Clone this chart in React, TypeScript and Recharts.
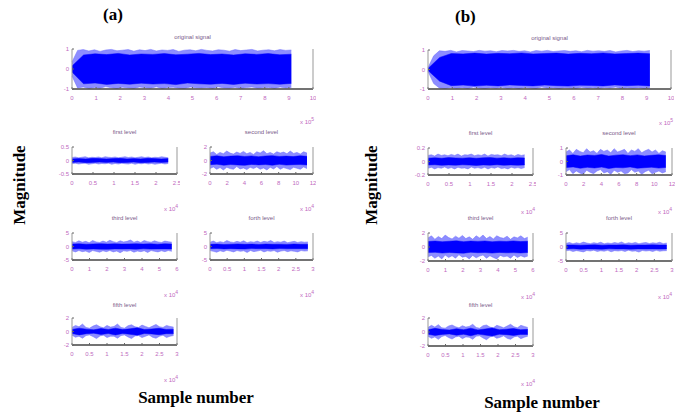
import { AreaChart, Area, XAxis, YAxis } from 'recharts'

// envelope of the dense noise (light fringe) and of the solid core band
const aOrigHi = [0.35, 0.93, 0.97, 0.9, 0.96, 0.88, 0.95, 0.98, 0.91, 0.94, 0.97, 0.89, 0.96, 0.92, 0.98, 0.9, 0.95, 0.93, 0.97, 0.88, 0.94, 0.96, 0.91, 0.98, 0.93, 0.9, 0.96, 0.94, 0.89, 0.97, 0.92, 0.95, 0.98, 0.9, 0.94, 0.96, 0.91, 0.97, 0.93, 0.95]
const aOrigLo = [-0.35, -0.95, -0.9, -0.97, -0.92, -0.96, -0.88, -0.94, -0.98, -0.91, -0.95, -0.97, -0.9, -0.94, -0.96, -0.89, -0.97, -0.93, -0.91, -0.96, -0.98, -0.9, -0.94, -0.95, -0.92, -0.97, -0.89, -0.95, -0.96, -0.91, -0.98, -0.93, -0.9, -0.96, -0.94, -0.92, -0.97, -0.9, -0.95, -0.93]
const aOrigCoreHi = [0.15, 0.7, 0.76, 0.72, 0.78, 0.7, 0.75, 0.73, 0.77, 0.71, 0.74, 0.78, 0.72, 0.75, 0.7, 0.76, 0.73, 0.77, 0.71, 0.74]
const aOrigCoreLo = [-0.15, -0.74, -0.7, -0.77, -0.72, -0.76, -0.71, -0.75, -0.73, -0.78, -0.7, -0.74, -0.76, -0.72, -0.77, -0.71, -0.75, -0.73, -0.76, -0.72]

const aL1Hi = [0.11, 0.13, 0.1, 0.12, 0.14, 0.1, 0.12, 0.11, 0.13, 0.1, 0.14, 0.12, 0.11, 0.13, 0.1, 0.12, 0.14, 0.11, 0.13, 0.1, 0.12, 0.14, 0.11, 0.13, 0.1, 0.12, 0.11, 0.14, 0.12, 0.1]
const aL1Lo = [-0.12, -0.1, -0.13, -0.11, -0.1, -0.14, -0.12, -0.1, -0.13, -0.11, -0.12, -0.1, -0.14, -0.11, -0.13, -0.1, -0.12, -0.13, -0.1, -0.14, -0.11, -0.12, -0.1, -0.13, -0.11, -0.14, -0.12, -0.1, -0.13, -0.11]
const aL1CoreHi = [0.06, 0.07, 0.06, 0.08, 0.07, 0.06, 0.07, 0.08, 0.06, 0.07, 0.06, 0.08, 0.07, 0.06, 0.07]
const aL1CoreLo = [-0.07, -0.06, -0.08, -0.07, -0.06, -0.07, -0.06, -0.08, -0.07, -0.06, -0.08, -0.07, -0.06, -0.07, -0.06]

const aL2Hi = [1.1, 1.3, 0.9, 1.2, 1.0, 1.4, 1.1, 0.95, 1.25, 1.05, 1.35, 1.0, 1.2, 0.9, 1.3, 1.1, 1.45, 1.0, 1.2, 0.95, 1.3, 1.1, 1.25, 1.0, 1.4, 1.05, 1.2, 0.95, 1.3, 1.1]
const aL2Lo = [-1.2, -0.95, -1.3, -1.05, -1.4, -1.0, -1.2, -1.3, -0.9, -1.25, -1.1, -1.35, -1.0, -1.2, -0.95, -1.3, -1.1, -1.4, -1.0, -1.25, -0.9, -1.3, -1.05, -1.2, -1.35, -1.0, -1.15, -1.3, -0.95, -1.2]
const aL2CoreHi = [0.6, 0.7, 0.55, 0.65, 0.7, 0.6, 0.68, 0.56, 0.66, 0.72, 0.6, 0.65, 0.58, 0.7, 0.62]
const aL2CoreLo = [-0.62, -0.55, -0.7, -0.6, -0.66, -0.72, -0.58, -0.65, -0.6, -0.7, -0.56, -0.68, -0.62, -0.6, -0.66]

const aL3Hi = [1.8, 1.5, 2.1, 1.6, 1.9, 1.4, 2.2, 1.7, 1.5, 2.0, 1.6, 2.3, 1.8, 1.5, 2.1, 1.7, 1.9, 2.4, 1.6, 2.0, 1.5, 2.2, 1.8, 1.6, 2.1, 1.7, 1.5, 2.0, 1.8, 1.6]
const aL3Lo = [-1.6, -2.0, -1.5, -1.9, -1.7, -2.2, -1.5, -1.8, -2.1, -1.6, -1.9, -1.5, -2.0, -1.7, -2.3, -1.6, -1.8, -1.5, -2.1, -1.7, -1.9, -1.6, -2.2, -1.5, -1.8, -2.0, -1.6, -1.9, -1.5, -1.8]
const aL3CoreHi = [0.9, 1.0, 0.85, 0.95, 1.05, 0.9, 1.0, 0.88, 0.96, 1.02, 0.9, 0.98, 0.86, 1.0, 0.92]
const aL3CoreLo = [-0.92, -0.86, -1.0, -0.9, -0.98, -1.04, -0.88, -0.95, -0.9, -1.0, -0.86, -0.97, -0.92, -0.9, -0.96]

const aL4Hi = [1.6, 2.0, 1.4, 1.8, 1.5, 2.2, 1.7, 1.5, 1.9, 1.6, 2.1, 1.4, 1.8, 1.6, 2.0, 1.5, 1.9, 1.7, 2.2, 1.5, 1.8, 1.6, 2.0, 1.4, 1.7, 1.9, 1.5, 1.8, 1.6, 1.7]
const aL4Lo = [-1.5, -1.8, -2.1, -1.6, -1.9, -1.4, -1.7, -2.0, -1.5, -1.8, -1.6, -2.2, -1.5, -1.9, -1.7, -1.4, -2.0, -1.6, -1.8, -1.5, -2.1, -1.7, -1.5, -1.9, -1.6, -1.8, -2.0, -1.5, -1.7, -1.6]
const aL4CoreHi = [0.8, 0.9, 0.75, 0.85, 0.95, 0.8, 0.88, 0.76, 0.9, 0.82, 0.86, 0.78, 0.92, 0.8, 0.85]
const aL4CoreLo = [-0.82, -0.76, -0.9, -0.8, -0.88, -0.94, -0.78, -0.85, -0.8, -0.9, -0.76, -0.86, -0.82, -0.8, -0.84]

const aL5Hi = [0.6, 0.9, 0.7, 1.1, 0.6, 0.5, 0.8, 1.0, 0.7, 0.55, 0.9, 0.65, 0.75, 1.1, 0.6, 0.5, 0.85, 1.0, 0.7, 0.6, 0.95, 0.75, 0.55, 0.8, 1.05, 0.7, 0.6, 0.9, 0.75, 0.65]
const aL5Lo = [-0.55, -0.85, -0.7, -1.0, -0.6, -0.5, -0.75, -1.05, -0.65, -0.55, -0.9, -0.7, -0.7, -1.0, -0.6, -0.5, -0.8, -1.05, -0.65, -0.6, -0.9, -0.7, -0.5, -0.85, -1.0, -0.7, -0.55, -0.9, -0.7, -0.6]
const aL5CoreHi = [0.3, 0.5, 0.35, 0.25, 0.45, 0.3, 0.5, 0.28, 0.4, 0.55, 0.3, 0.38, 0.48, 0.3, 0.35]
const aL5CoreLo = [-0.3, -0.5, -0.32, -0.25, -0.45, -0.3, -0.52, -0.28, -0.42, -0.55, -0.3, -0.36, -0.48, -0.32, -0.34]

const bOrigHi = [0.1, 0.7, 0.96, 0.93, 0.98, 0.9, 0.97, 0.95, 0.92, 0.98, 0.94, 0.96, 0.91, 0.97, 0.95, 0.98, 0.93, 0.96, 0.9, 0.97, 0.94, 0.98, 0.92, 0.95, 0.97, 0.93, 0.96, 0.91, 0.98, 0.94, 0.96, 0.93, 0.97, 0.9, 0.95, 0.98, 0.92, 0.96, 0.94, 0.97]
const bOrigLo = [-0.1, -0.72, -0.95, -0.98, -0.92, -0.96, -0.94, -0.97, -0.9, -0.95, -0.98, -0.93, -0.96, -0.91, -0.97, -0.94, -0.98, -0.92, -0.95, -0.97, -0.9, -0.96, -0.94, -0.98, -0.93, -0.95, -0.97, -0.91, -0.96, -0.94, -0.98, -0.92, -0.95, -0.9, -0.97, -0.94, -0.96, -0.93, -0.98, -0.95]
const bOrigCoreHi = [0.05, 0.62, 0.82, 0.8, 0.84, 0.79, 0.83, 0.81, 0.85, 0.8, 0.82, 0.84, 0.79, 0.83, 0.81, 0.85, 0.8, 0.82, 0.84, 0.81]
const bOrigCoreLo = [-0.05, -0.6, -0.83, -0.8, -0.85, -0.81, -0.84, -0.79, -0.82, -0.84, -0.8, -0.83, -0.85, -0.81, -0.82, -0.84, -0.79, -0.83, -0.81, -0.84]

const bL1Hi = [0.09, 0.1, 0.08, 0.11, 0.09, 0.1, 0.085, 0.105, 0.09, 0.11, 0.08, 0.1, 0.095, 0.11, 0.085, 0.1, 0.09, 0.11, 0.08, 0.105, 0.095, 0.1, 0.085, 0.11, 0.09, 0.1, 0.08, 0.105, 0.09, 0.1]
const bL1Lo = [-0.1, -0.085, -0.11, -0.09, -0.1, -0.08, -0.105, -0.09, -0.11, -0.085, -0.1, -0.095, -0.11, -0.08, -0.1, -0.09, -0.105, -0.085, -0.11, -0.09, -0.1, -0.08, -0.105, -0.095, -0.11, -0.085, -0.1, -0.09, -0.105, -0.09]
const bL1CoreHi = [0.05, 0.055, 0.048, 0.058, 0.052, 0.05, 0.056, 0.048, 0.054, 0.058, 0.05, 0.055, 0.049, 0.056, 0.052]
const bL1CoreLo = [-0.052, -0.048, -0.057, -0.05, -0.055, -0.049, -0.053, -0.058, -0.05, -0.054, -0.048, -0.056, -0.051, -0.055, -0.05]

const bL2Hi = [0.7, 0.85, 0.6, 0.9, 0.75, 0.65, 0.95, 0.7, 0.8, 0.6, 0.9, 0.75, 0.85, 0.65, 0.95, 0.7, 0.8, 0.9, 0.6, 0.85, 0.75, 0.95, 0.65, 0.8, 0.9, 0.7, 0.85, 0.6, 0.8, 0.7]
const bL2Lo = [-0.75, -0.6, -0.9, -0.7, -0.85, -0.95, -0.65, -0.8, -0.9, -0.7, -0.6, -0.85, -0.75, -0.95, -0.65, -0.8, -0.7, -0.9, -0.85, -0.6, -0.8, -0.7, -0.95, -0.75, -0.65, -0.9, -0.8, -0.7, -0.85, -0.75]
const bL2CoreHi = [0.42, 0.5, 0.4, 0.48, 0.45, 0.52, 0.4, 0.47, 0.5, 0.43, 0.49, 0.41, 0.46, 0.5, 0.44]
const bL2CoreLo = [-0.45, -0.4, -0.5, -0.43, -0.48, -0.41, -0.52, -0.44, -0.47, -0.4, -0.5, -0.46, -0.42, -0.49, -0.44]

const bL3Hi = [1.3, 1.6, 1.1, 1.5, 1.2, 1.7, 1.35, 1.15, 1.55, 1.25, 1.65, 1.2, 1.45, 1.1, 1.6, 1.3, 1.7, 1.2, 1.5, 1.15, 1.6, 1.35, 1.25, 1.55, 1.1, 1.45, 1.3, 1.6, 1.2, 1.4]
const bL3Lo = [-1.4, -1.2, -1.6, -1.3, -1.7, -1.15, -1.5, -1.25, -1.6, -1.1, -1.45, -1.35, -1.7, -1.2, -1.55, -1.3, -1.15, -1.6, -1.25, -1.5, -1.7, -1.2, -1.4, -1.3, -1.6, -1.15, -1.5, -1.25, -1.45, -1.3]
const bL3CoreHi = [0.78, 0.85, 0.75, 0.82, 0.88, 0.76, 0.84, 0.8, 0.86, 0.74, 0.83, 0.79, 0.87, 0.77, 0.82]
const bL3CoreLo = [-0.8, -0.76, -0.86, -0.78, -0.84, -0.88, -0.75, -0.82, -0.79, -0.87, -0.77, -0.83, -0.8, -0.85, -0.78]

const bL4Hi = [1.3, 1.6, 1.15, 1.5, 1.25, 1.75, 1.4, 1.2, 1.55, 1.3, 1.7, 1.15, 1.45, 1.25, 1.6, 1.35, 1.8, 1.2, 1.5, 1.3, 1.65, 1.15, 1.45, 1.6, 1.25, 1.5, 1.35, 1.7, 1.2, 1.4]
const bL4Lo = [-1.35, -1.2, -1.6, -1.3, -1.5, -1.75, -1.25, -1.45, -1.15, -1.6, -1.35, -1.5, -1.2, -1.7, -1.3, -1.45, -1.25, -1.6, -1.15, -1.5, -1.4, -1.8, -1.25, -1.45, -1.3, -1.6, -1.2, -1.5, -1.35, -1.3]
const bL4CoreHi = [0.68, 0.75, 0.64, 0.72, 0.78, 0.66, 0.74, 0.7, 0.76, 0.65, 0.73, 0.69, 0.77, 0.67, 0.72]
const bL4CoreLo = [-0.7, -0.65, -0.76, -0.68, -0.74, -0.78, -0.66, -0.72, -0.69, -0.77, -0.67, -0.73, -0.7, -0.75, -0.68]

const bL5Hi = [0.65, 0.95, 0.7, 1.05, 0.6, 0.55, 0.85, 1.0, 0.75, 0.6, 0.9, 0.7, 0.8, 1.1, 0.65, 0.55, 0.9, 1.0, 0.7, 0.6, 0.95, 0.8, 0.6, 0.85, 1.1, 0.75, 0.6, 0.95, 0.8, 0.65]
const bL5Lo = [-0.6, -0.9, -0.7, -1.05, -0.65, -0.5, -0.8, -1.0, -0.7, -0.6, -0.95, -0.7, -0.75, -1.05, -0.6, -0.55, -0.85, -1.1, -0.7, -0.6, -0.9, -0.75, -0.55, -0.9, -1.05, -0.7, -0.6, -0.95, -0.75, -0.6]
const bL5CoreHi = [0.32, 0.52, 0.36, 0.28, 0.48, 0.32, 0.55, 0.3, 0.42, 0.58, 0.32, 0.4, 0.5, 0.32, 0.38]
const bL5CoreLo = [-0.32, -0.5, -0.34, -0.27, -0.47, -0.32, -0.54, -0.3, -0.44, -0.57, -0.32, -0.38, -0.5, -0.34, -0.36]

// axis ticks
const ticksOrig = [0, 1, 2, 3, 4, 5, 6, 7, 8, 9, 10]
const ticks25 = [0, 0.5, 1, 1.5, 2, 2.5]
const ticks12 = [0, 2, 4, 6, 8, 10, 12]
const ticks6 = [0, 1, 2, 3, 4, 5, 6]
const ticks3 = [0, 0.5, 1, 1.5, 2, 2.5, 3]

const TICK_COLOR = '#c06ac0'
const TITLE_COLOR = '#7a5a8a'

type Box = { l: number; t: number; r: number; b: number }

function band(hi: number[], lo: number[], xEnd: number) {
  return hi.map((h, i) => ({ x: (i * xEnd) / (hi.length - 1), v: [lo[i], h] }))
}

interface PanelProps {
  box: Box
  title: string
  titleY: number
  xEnd: number
  xTicks: number[]
  yLim: number
  yTicks: number[]
  hi: number[]
  lo: number[]
  coreHi: number[]
  coreLo: number[]
  exp: string
  expPos: [number, number]
}

function Panel({ box, title, titleY, xEnd, xTicks, yLim, yTicks, hi, lo, coreHi, coreLo, exp, expPos }: PanelProps) {
  const L = 20
  const w = box.r - box.l
  const h = box.b - box.t
  const xMax = xTicks[xTicks.length - 1]
  const tickStyle = { fontSize: 6, fill: TICK_COLOR, fontFamily: 'Liberation Sans, Arial' }
  return (
    <>
      <div
        style={{
          position: 'absolute',
          left: box.l,
          width: w,
          top: titleY - 4,
          textAlign: 'center',
          fontSize: 6,
          color: TITLE_COLOR,
          fontFamily: 'Liberation Sans, Arial',
          lineHeight: '8px',
        }}
      >
        {title}
      </div>
      <div style={{ position: 'absolute', left: box.l - L, top: box.t - 2 }}>
        <AreaChart width={L + w + 3} height={2 + h + 18} margin={{ top: 2, right: 2, bottom: 0, left: 0 }}>
          <XAxis
            xAxisId="b"
            dataKey="x"
            type="number"
            domain={[0, xMax]}
            ticks={xTicks}
            interval={0}
            height={18}
            tickSize={-2}
            tickMargin={9}
            axisLine={{ stroke: '#444', strokeWidth: 1.5 }}
            tickLine={{ stroke: '#666' }}
            tick={tickStyle}
          />
          <XAxis
            xAxisId="t"
            orientation="top"
            dataKey="x"
            type="number"
            domain={[0, xMax]}
            ticks={xTicks}
            interval={0}
            height={0}
            tickSize={-2}
            axisLine={{ stroke: '#444', strokeWidth: 1.5 }}
            tickLine={{ stroke: '#666' }}
            tick={false}
          />
          <YAxis
            yAxisId="l"
            type="number"
            domain={[-yLim, yLim]}
            ticks={yTicks}
            interval={0}
            width={L}
            tickSize={-2}
            tickMargin={5}
            axisLine={{ stroke: '#999' }}
            tickLine={{ stroke: '#666' }}
            tick={tickStyle}
          />
          <YAxis
            yAxisId="r"
            orientation="right"
            type="number"
            domain={[-yLim, yLim]}
            ticks={[0]}
            width={1}
            tickSize={-2}
            axisLine={{ stroke: '#999' }}
            tickLine={{ stroke: '#333' }}
            tick={false}
          />
          <Area
            xAxisId="b"
            yAxisId="l"
            data={band(hi, lo, xEnd)}
            dataKey="v"
            type="linear"
            stroke="#6a6aff"
            strokeWidth={0.5}
            fill="#3030ff"
            fillOpacity={0.55}
            isAnimationActive={false}
          />
          <Area
            xAxisId="b"
            yAxisId="l"
            data={band(coreHi, coreLo, xEnd)}
            dataKey="v"
            type="linear"
            stroke="#0000ff"
            strokeWidth={0.5}
            fill="#0000ff"
            fillOpacity={1}
            isAnimationActive={false}
          />
        </AreaChart>
      </div>
      <div
        style={{
          position: 'absolute',
          left: expPos[0] - 6,
          top: expPos[1] - 5,
          fontSize: 6,
          color: TICK_COLOR,
          fontFamily: 'Liberation Sans, Arial',
          lineHeight: '8px',
          whiteSpace: 'nowrap',
        }}
      >
        x 10<sup style={{ fontSize: 5 }}>{exp}</sup>
      </div>
    </>
  )
}

const bigText = {
  position: 'absolute' as const,
  fontFamily: 'Liberation Serif, Times New Roman, serif',
  fontWeight: 'bold' as const,
  fontSize: 17,
  color: '#000',
  whiteSpace: 'nowrap' as const,
  lineHeight: '20px',
}

export default function App() {
  return (
    <div style={{ position: 'absolute', left: 0, top: 0, width: 683, height: 416, background: '#fff', overflow: 'hidden' }}>
      <div style={{ ...bigText, left: 103, top: 5 }}>(a)</div>
      <div style={{ ...bigText, left: 455, top: 7 }}>(b)</div>
      <div style={{ ...bigText, left: 20, top: 185, transform: 'translate(-50%, -50%) rotate(-90deg)' }}>Magnitude</div>
      <div style={{ ...bigText, left: 372, top: 185, transform: 'translate(-50%, -50%) rotate(-90deg)' }}>Magnitude</div>
      <div style={{ ...bigText, left: 196, top: 398, transform: 'translate(-50%, -50%)' }}>Sample number</div>
      <div style={{ ...bigText, left: 542, top: 403, transform: 'translate(-50%, -50%)' }}>Sample number</div>

      <Panel box={{ l: 72, t: 49, r: 313, b: 89 }} title="original signal" titleY={37} xEnd={9.1} xTicks={ticksOrig} yLim={1} yTicks={[-1, 0, 1]} hi={aOrigHi} lo={aOrigLo} coreHi={aOrigCoreHi} coreLo={aOrigCoreLo} exp="5" expPos={[306, 120]} />
      <Panel box={{ l: 72, t: 147, r: 177, b: 174 }} title="first level" titleY={132} xEnd={2.29} xTicks={ticks25} yLim={0.5} yTicks={[-0.5, 0, 0.5]} hi={aL1Hi} lo={aL1Lo} coreHi={aL1CoreHi} coreLo={aL1CoreLo} exp="4" expPos={[170, 207]} />
      <Panel box={{ l: 210, t: 147, r: 313, b: 174 }} title="second level" titleY={132} xEnd={11.3} xTicks={ticks12} yLim={2} yTicks={[-2, 0, 2]} hi={aL2Hi} lo={aL2Lo} coreHi={aL2CoreHi} coreLo={aL2CoreLo} exp="4" expPos={[306, 207]} />
      <Panel box={{ l: 72, t: 233, r: 177, b: 260 }} title="third level" titleY={218} xEnd={5.7} xTicks={ticks6} yLim={5} yTicks={[-5, 0, 5]} hi={aL3Hi} lo={aL3Lo} coreHi={aL3CoreHi} coreLo={aL3CoreLo} exp="4" expPos={[170, 293]} />
      <Panel box={{ l: 210, t: 233, r: 313, b: 260 }} title="forth level" titleY={218} xEnd={2.85} xTicks={ticks3} yLim={5} yTicks={[-5, 0, 5]} hi={aL4Hi} lo={aL4Lo} coreHi={aL4CoreHi} coreLo={aL4CoreLo} exp="4" expPos={[306, 293]} />
      <Panel box={{ l: 72, t: 318, r: 177, b: 345 }} title="fifth level" titleY={305} xEnd={2.9} xTicks={ticks3} yLim={2} yTicks={[-2, 0, 2]} hi={aL5Hi} lo={aL5Lo} coreHi={aL5CoreHi} coreLo={aL5CoreLo} exp="4" expPos={[170, 378]} />

      <Panel box={{ l: 428, t: 50, r: 671, b: 89 }} title="original signal" titleY={38} xEnd={9.13} xTicks={ticksOrig} yLim={1} yTicks={[-1, 0, 1]} hi={bOrigHi} lo={bOrigLo} coreHi={bOrigCoreHi} coreLo={bOrigCoreLo} exp="5" expPos={[665, 121]} />
      <Panel box={{ l: 428, t: 148, r: 533, b: 175 }} title="first level" titleY={133} xEnd={2.3} xTicks={ticks25} yLim={0.2} yTicks={[-0.2, 0, 0.2]} hi={bL1Hi} lo={bL1Lo} coreHi={bL1CoreHi} coreLo={bL1CoreLo} exp="4" expPos={[527, 210]} />
      <Panel box={{ l: 566, t: 148, r: 672, b: 175 }} title="second level" titleY={133} xEnd={11.3} xTicks={ticks12} yLim={1} yTicks={[-1, 0, 1]} hi={bL2Hi} lo={bL2Lo} coreHi={bL2CoreHi} coreLo={bL2CoreLo} exp="4" expPos={[664, 210]} />
      <Panel box={{ l: 428, t: 233, r: 533, b: 261 }} title="third level" titleY={218} xEnd={5.7} xTicks={ticks6} yLim={2} yTicks={[-2, 0, 2]} hi={bL3Hi} lo={bL3Lo} coreHi={bL3CoreHi} coreLo={bL3CoreLo} exp="4" expPos={[527, 295]} />
      <Panel box={{ l: 566, t: 233, r: 672, b: 261 }} title="forth level" titleY={218} xEnd={2.85} xTicks={ticks3} yLim={5} yTicks={[-5, 0, 5]} hi={bL4Hi} lo={bL4Lo} coreHi={bL4CoreHi} coreLo={bL4CoreLo} exp="4" expPos={[664, 295]} />
      <Panel box={{ l: 428, t: 318, r: 533, b: 346 }} title="fifth level" titleY={305} xEnd={2.85} xTicks={ticks3} yLim={2} yTicks={[-2, 0, 2]} hi={bL5Hi} lo={bL5Lo} coreHi={bL5CoreHi} coreLo={bL5CoreLo} exp="4" expPos={[527, 382]} />
    </div>
  )
}
